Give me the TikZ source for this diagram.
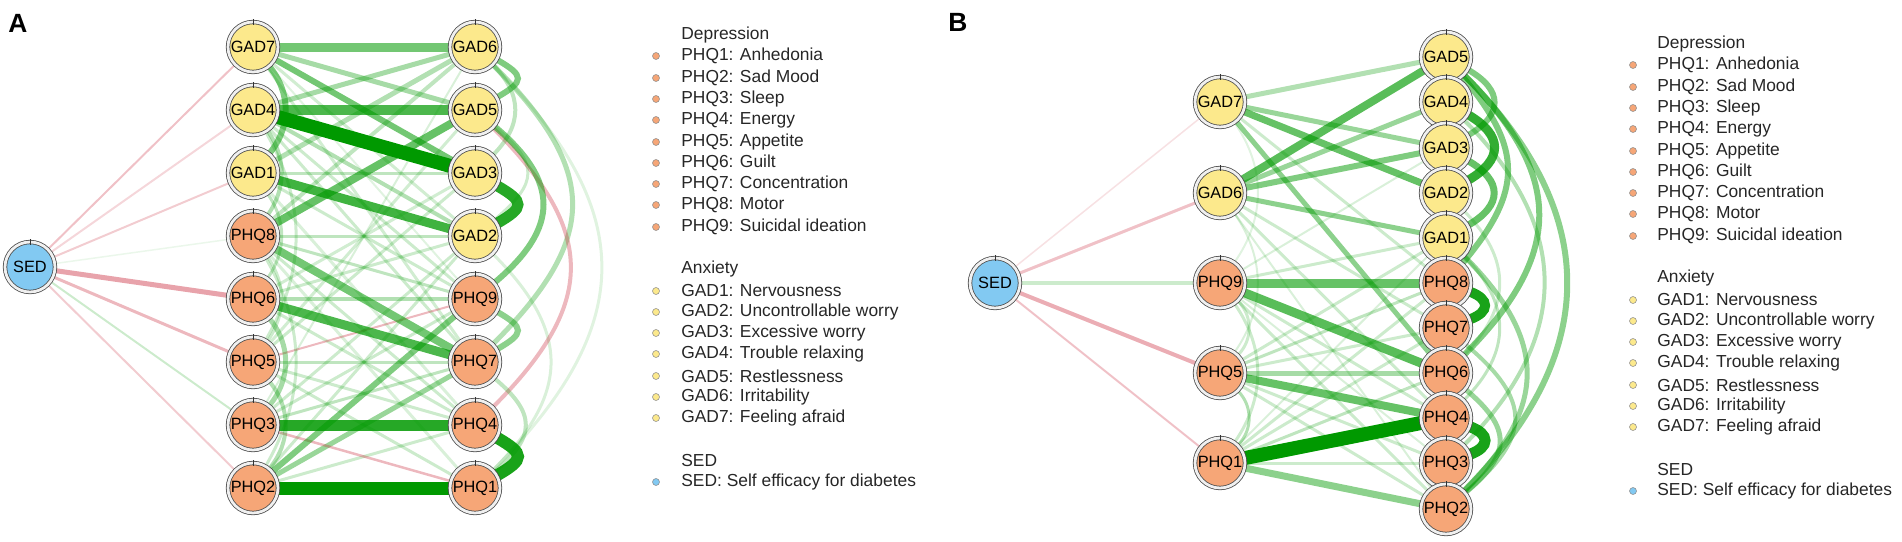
\documentclass[tikz,border=0pt]{standalone}
\usepackage{fontspec}
\setmainfont{Liberation Sans}
\definecolor{gadfill}{HTML}{FCE98C}
\definecolor{phqfill}{HTML}{F6A677}
\definecolor{sedfill}{HTML}{82C9F2}
\definecolor{posgreen}{HTML}{009900}
\definecolor{negred}{HTML}{CC3344}
\pgfdeclarelayer{edgelayer}
\pgfsetlayers{edgelayer,main}

\begin{document}
\begin{tikzpicture}[x=0.02cm,y=-0.02cm,
    item/.style={circle, inner sep=0pt, minimum size=1cm, draw=black!70, line width=0.45pt,
        double=gray!12, double distance=0.055cm, font=\fontsize{9.3pt}{10pt}\selectfont},
    gad/.style={item, fill=gadfill},
    phq/.style={item, fill=phqfill},
    sed/.style={item, fill=sedfill},
    posedge/.style 2 args={draw=posgreen, line width=#1*0.02cm, draw opacity=#2},
    negedge/.style 2 args={draw=negred, line width=#1*0.02cm, draw opacity=#2},
    legtext/.style={anchor=west, inner sep=0pt, text=black!85, font=\fontsize{9.9pt}{11pt}\selectfont},
    legdot/.style={circle, inner sep=0pt, minimum size=0.14cm, draw=black!45, line width=0.3pt},
    panel/.style={font=\fontsize{15pt}{17pt}\selectfont\bfseries}]
    \useasboundingbox (0,0) rectangle (1902,541);

    \node[panel] (labA) at (18,23) {A};
    \node[panel] (labB) at (958,22) {B};

    \node[sed] (aS) at (30,267) {SED};
    \node[gad] (aG7) at (253,47) {GAD7};
    \node[gad] (aG4) at (253,110) {GAD4};
    \node[gad] (aG1) at (253,173) {GAD1};
    \node[phq] (aP8) at (253,236) {PHQ8};
    \node[phq] (aP6) at (253,299) {PHQ6};
    \node[phq] (aP5) at (253,362) {PHQ5};
    \node[phq] (aP3) at (253,425) {PHQ3};
    \node[phq] (aP2) at (253,488) {PHQ2};
    \node[gad] (aG6) at (475,47) {GAD6};
    \node[gad] (aG5) at (475,110) {GAD5};
    \node[gad] (aG3) at (475,173) {GAD3};
    \node[gad] (aG2) at (475,236) {GAD2};
    \node[phq] (aP9) at (475,299) {PHQ9};
    \node[phq] (aP7) at (475,362) {PHQ7};
    \node[phq] (aP4) at (475,425) {PHQ4};
    \node[phq] (aP1) at (475,488) {PHQ1};

    \node[sed] (bS) at (995,283) {SED};
    \node[gad] (bG7) at (1220,102) {GAD7};
    \node[gad] (bG6) at (1220,193) {GAD6};
    \node[phq] (bP9) at (1220,283) {PHQ9};
    \node[phq] (bP5) at (1220,373) {PHQ5};
    \node[phq] (bP1) at (1220,463) {PHQ1};
    \node[gad] (bG5) at (1446,57) {GAD5};
    \node[gad] (bG4) at (1446,102) {GAD4};
    \node[gad] (bG3) at (1446,148) {GAD3};
    \node[gad] (bG2) at (1446,193) {GAD2};
    \node[gad] (bG1) at (1446,238) {GAD1};
    \node[phq] (bP8) at (1446,283) {PHQ8};
    \node[phq] (bP7) at (1446,328) {PHQ7};
    \node[phq] (bP6) at (1446,373) {PHQ6};
    \node[phq] (bP4) at (1446,418) {PHQ4};
    \node[phq] (bP3) at (1446,463) {PHQ3};
    \node[phq] (bP2) at (1446,509) {PHQ2};

    \foreach \n in {aS,aG7,aG4,aG1,aP8,aP6,aP5,aP3,aP2,aG6,aG5,aG3,aG2,aP9,aP7,aP4,aP1,
        bS,bG7,bG6,bP9,bP5,bP1,bG5,bG4,bG3,bG2,bG1,bP8,bP7,bP6,bP4,bP3,bP2}
        \draw[black!80, line width=0.5pt] (\n.center) ++(0,-22.5) -- ++(0,-5.5);

    \begin{pgfonlayer}{edgelayer}
        \draw[posedge={2}{0.12}] (aG7) -- (aP9);
        \draw[posedge={3}{0.18}] (aG7) -- (aG2);
        \draw[posedge={3}{0.18}] (aG7) -- (aP7);
        \draw[posedge={3}{0.2}] (aG4) -- (aP7);
        \draw[posedge={3}{0.2}] (aG4) -- (aP9);
        \draw[posedge={3}{0.25}] (aG1) -- (aG3);
        \draw[posedge={3}{0.2}] (aG1) -- (aP9);
        \draw[posedge={3}{0.15}] (aG1) -- (aP4);
        \draw[posedge={3}{0.25}] (aP8) -- (aG2);
        \draw[posedge={3}{0.25}] (aP8) -- (aP9);
        \draw[posedge={3}{0.2}] (aP8) -- (aP4);
        \draw[posedge={3}{0.15}] (aP8) -- (aP1);
        \draw[posedge={3}{0.2}] (aP6) -- (aG2);
        \draw[posedge={3}{0.18}] (aP6) -- (aG3);
        \draw[posedge={3}{0.2}] (aP6) -- (aP4);
        \draw[posedge={3}{0.2}] (aP5) -- (aG3);
        \draw[posedge={3}{0.18}] (aP5) -- (aG5);
        \draw[posedge={3}{0.25}] (aP5) -- (aP7);
        \draw[posedge={3}{0.2}] (aP5) -- (aP4);
        \draw[posedge={3}{0.2}] (aP5) -- (aP1);
        \draw[posedge={2}{0.15}] (aP3) -- (aG6);
        \draw[posedge={3}{0.2}] (aP3) -- (aG2);
        \draw[posedge={3}{0.2}] (aP3) -- (aP9);
        \draw[posedge={3}{0.25}] (aP3) -- (aP7);
        \draw[posedge={3}{0.2}] (aP2) -- (aG2);
        \draw[posedge={3}{0.2}] (aP2) -- (aP4);
        \draw[posedge={4}{0.3}] (aG4) -- (aG2);
        \draw[posedge={4}{0.25}] (aP8) -- (aG6);
        \draw[posedge={4}{0.3}] (aP6) -- (aP9);
        \draw[posedge={5}{0.35}] (aG7) -- (aG5);
        \draw[posedge={5}{0.35}] (aG4) -- (aG6);
        \draw[posedge={5}{0.3}] (aG1) -- (aG6);
        \draw[posedge={5}{0.4}] (aP2) -- (aP7);
        \draw[negedge={2}{0.35}] (aP5) -- (aP9);
        \draw[negedge={2.5}{0.35}] (aP3) -- (aP1);

        \draw[posedge={6}{0.5}] (aG7) to[bend left=40] (aG1);
        \draw[posedge={4}{0.3}] (aG4) to[bend left=35] (aP8);
        \draw[posedge={3}{0.25}] (aG1) to[bend left=35] (aP6);
        \draw[posedge={3}{0.2}] (aP8) to[bend left=35] (aP5);
        \draw[posedge={5}{0.35}] (aP6) to[bend left=40] (aP3);
        \draw[posedge={4}{0.3}] (aP5) to[bend left=40] (aP2);
        \draw[posedge={3}{0.2}] (aG4) to[bend left=30] (aP5);
        \draw[posedge={3}{0.2}] (aP8) to[bend left=30] (aP2);

        \draw[posedge={3}{0.12}] (aG6) to[bend left=45, looseness=1.3] (aP1);
        \draw[posedge={5}{0.3}] (aG6) to[bend left=45, looseness=1.38] (aP7);
        \draw[posedge={3}{0.15}] (aG2) to[bend left=45, looseness=1.3] (aP1);
        \draw[negedge={4}{0.35}] (aG5) to[bend left=45, looseness=1.35] (aP4);
        \draw[posedge={4}{0.25}] (aG6) to[bend left=45, looseness=1.2] (aG3);
        \draw[posedge={3}{0.2}] (aG5) to[bend left=50, looseness=1.6] (aG2);
        \draw[posedge={4}{0.25}] (aP7) to[bend left=50, looseness=1.5] (aP1);
        \draw[posedge={6}{0.5}] (aG5) to[bend left=50, looseness=1.4] (aP9);
        \draw[posedge={6}{0.5}] (aG6) to[bend left=60, looseness=2.2] (aG5);
        \draw[posedge={6}{0.45}] (aP9) to[bend left=60, looseness=2.2] (aP7);
        \draw[posedge={11}{0.85}] (aG3) to[bend left=60, looseness=2.2] (aG2);
        \draw[posedge={12}{0.9}] (aP4) to[bend left=60, looseness=2.2] (aP1);

        \draw[posedge={6}{0.55}] (aG7) -- (aG3);
        \draw[posedge={9}{0.55}] (aG7) -- (aG6);
        \draw[posedge={8}{0.6}] (aP8) -- (aG5);
        \draw[posedge={8}{0.55}] (aP8) -- (aP7);
        \draw[posedge={6}{0.5}] (aP2) -- (aP9);
        \draw[posedge={9}{0.75}] (aG1) -- (aG2);
        \draw[posedge={9}{0.7}] (aP6) -- (aP7);
        \draw[posedge={10}{0.7}] (aG4) -- (aG5);
        \draw[posedge={11}{0.85}] (aP3) -- (aP4);
        \draw[posedge={14}{1}] (aG4) -- (aG3);
        \draw[posedge={13}{1}] (aP2) -- (aP1);

        \draw[posedge={1.5}{0.08}] (aS) -- (aP8);
        \draw[posedge={2}{0.2}] (aS) -- (aP3);
        \draw[negedge={2}{0.2}] (aS) -- (aG4);
        \draw[negedge={2}{0.25}] (aS) -- (aG1);
        \draw[negedge={2}{0.3}] (aS) -- (aG7);
        \draw[negedge={2}{0.25}] (aS) -- (aP2);
        \draw[negedge={3}{0.35}] (aS) -- (aP5);
        \draw[negedge={5}{0.45}] (aS) -- (aP6);

        \draw[posedge={3}{0.2}] (bG7) -- (bP8);
        \draw[posedge={3}{0.2}] (bG6) -- (bP7);
        \draw[posedge={3}{0.2}] (bG6) -- (bP4);
        \draw[posedge={2}{0.15}] (bG6) -- (bP2);
        \draw[posedge={3}{0.2}] (bP9) -- (bG1);
        \draw[posedge={2}{0.15}] (bP9) -- (bG3);
        \draw[posedge={3}{0.2}] (bP9) -- (bP4);
        \draw[posedge={2}{0.15}] (bP9) -- (bP3);
        \draw[posedge={3}{0.2}] (bP9) -- (bP2);
        \draw[posedge={3}{0.25}] (bP5) -- (bP8);
        \draw[posedge={3}{0.2}] (bP5) -- (bG1);
        \draw[posedge={3}{0.2}] (bP5) -- (bP7);
        \draw[posedge={3}{0.2}] (bP5) -- (bP3);
        \draw[posedge={3}{0.2}] (bP5) -- (bP2);
        \draw[posedge={2}{0.15}] (bP1) -- (bG1);
        \draw[posedge={3}{0.2}] (bP1) -- (bP8);
        \draw[posedge={3}{0.2}] (bP1) -- (bP7);
        \draw[posedge={3}{0.25}] (bP1) -- (bP6);
        \draw[posedge={3}{0.2}] (bP1) -- (bP3);

        \draw[posedge={2}{0.12}] (bG7) to[bend left=35] (bP9);
        \draw[posedge={2}{0.15}] (bG6) to[bend left=35] (bP5);
        \draw[posedge={3}{0.2}] (bP9) to[bend left=35] (bP1);
        \draw[posedge={3}{0.2}] (bP9) to[bend left=45] (bP5);
        \draw[posedge={3}{0.3}] (bP5) to[bend left=45] (bP1);

        \draw[posedge={5}{0.3}] (bG7) -- (bG5);
        \draw[posedge={5}{0.4}] (bG7) -- (bG3);
        \draw[posedge={7}{0.6}] (bG7) -- (bG2);
        \draw[posedge={5}{0.45}] (bG7) -- (bP6);
        \draw[posedge={5}{0.4}] (bG6) -- (bG4);
        \draw[posedge={6}{0.5}] (bG6) -- (bG3);
        \draw[posedge={5}{0.45}] (bG6) -- (bG1);
        \draw[posedge={8}{0.65}] (bG6) -- (bG5);
        \draw[posedge={5}{0.35}] (bP5) -- (bP6);
        \draw[posedge={7}{0.45}] (bP1) -- (bP2);
        \draw[posedge={9}{0.6}] (bP9) -- (bP8);
        \draw[posedge={9}{0.65}] (bP9) -- (bP6);
        \draw[posedge={8}{0.6}] (bP5) -- (bP4);
        \draw[posedge={14}{1}] (bP1) -- (bP4);

        \draw[posedge={3}{0.2}] (bG2) to[bend left=45, looseness=1.2] (bP6);
        \draw[posedge={3}{0.25}] (bG1) to[bend left=45, looseness=1.2] (bP4);
        \draw[posedge={4}{0.3}] (bG4) to[bend left=45, looseness=1.2] (bP3);
        \draw[posedge={4}{0.35}] (bP7) to[bend left=50, looseness=1.5] (bP2);
        \draw[posedge={5}{0.4}] (bP6) to[bend left=50, looseness=1.5] (bP2);
        \draw[posedge={5}{0.4}] (bG1) to[bend left=45, looseness=1.3] (bP2);
        \draw[posedge={6}{0.45}] (bG5) to[bend left=45, looseness=1.2] (bP2);
        \draw[posedge={6}{0.5}] (bG5) to[bend left=45, looseness=1.3] (bP6);
        \draw[posedge={6}{0.5}] (bG5) to[bend left=40, looseness=1.3] (bP8);
        \draw[posedge={6}{0.5}] (bG5) to[bend left=60, looseness=1.6] (bG3);
        \draw[posedge={7}{0.6}] (bG3) to[bend left=60, looseness=1.6] (bG1);
        \draw[posedge={9}{0.8}] (bG4) to[bend left=60, looseness=1.6] (bG2);
        \draw[posedge={10}{0.9}] (bP8) to[bend left=70, looseness=2] (bP7);
        \draw[posedge={11}{0.9}] (bP4) to[bend left=70, looseness=2] (bP3);

        \draw[negedge={1.5}{0.15}] (bS) -- (bG7);
        \draw[negedge={3}{0.3}] (bS) -- (bG6);
        \draw[posedge={4}{0.2}] (bS) -- (bP9);
        \draw[negedge={4}{0.4}] (bS) -- (bP5);
        \draw[negedge={2}{0.3}] (bS) -- (bP1);
    \end{pgfonlayer}

    \node[legtext] (aLdep) at (681,35) {Depression};
    \node[legdot, fill=phqfill] (aD1) at (656,56) {};
    \node[legtext] (aL1) at (681,56) {PHQ1: Anhedonia};
    \node[legdot, fill=phqfill] (aD2) at (656,78) {};
    \node[legtext] (aL2) at (681,78) {PHQ2: Sad Mood};
    \node[legdot, fill=phqfill] (aD3) at (656,99) {};
    \node[legtext] (aL3) at (681,99) {PHQ3: Sleep};
    \node[legdot, fill=phqfill] (aD4) at (656,120) {};
    \node[legtext] (aL4) at (681,120) {PHQ4: Energy};
    \node[legdot, fill=phqfill] (aD5) at (656,142) {};
    \node[legtext] (aL5) at (681,142) {PHQ5: Appetite};
    \node[legdot, fill=phqfill] (aD6) at (656,163) {};
    \node[legtext] (aL6) at (681,163) {PHQ6: Guilt};
    \node[legdot, fill=phqfill] (aD7) at (656,184) {};
    \node[legtext] (aL7) at (681,184) {PHQ7: Concentration};
    \node[legdot, fill=phqfill] (aD8) at (656,205) {};
    \node[legtext] (aL8) at (681,205) {PHQ8: Motor};
    \node[legdot, fill=phqfill] (aD9) at (656,227) {};
    \node[legtext] (aL9) at (681,227) {PHQ9: Suicidal ideation};
    \node[legtext] (aLanx) at (681,269) {Anxiety};
    \node[legdot, fill=gadfill] (aE1) at (656,291) {};
    \node[legtext] (aM1) at (681,291) {GAD1: Nervousness};
    \node[legdot, fill=gadfill] (aE2) at (656,312) {};
    \node[legtext] (aM2) at (681,312) {GAD2: Uncontrollable worry};
    \node[legdot, fill=gadfill] (aE3) at (656,333) {};
    \node[legtext] (aM3) at (681,333) {GAD3: Excessive worry};
    \node[legdot, fill=gadfill] (aE4) at (656,354) {};
    \node[legtext] (aM4) at (681,354) {GAD4: Trouble relaxing};
    \node[legdot, fill=gadfill] (aE5) at (656,376) {};
    \node[legtext] (aM5) at (681,376) {GAD5: Restlessness};
    \node[legdot, fill=gadfill] (aE6) at (656,397) {};
    \node[legtext] (aM6) at (681,397) {GAD6: Irritability};
    \node[legdot, fill=gadfill] (aE7) at (656,418) {};
    \node[legtext] (aM7) at (681,418) {GAD7: Feeling afraid};
    \node[legtext] (aLsed) at (681,461) {SED};
    \node[legdot, fill=sedfill] (aF1) at (656,482) {};
    \node[legtext] (aN1) at (681,482) {SED: Self efficacy for diabetes};

    \node[legtext] (bLdep) at (1657,44) {Depression};
    \node[legdot, fill=phqfill] (bD1) at (1633,65) {};
    \node[legtext] (bL1) at (1657,65) {PHQ1: Anhedonia};
    \node[legdot, fill=phqfill] (bD2) at (1633,87) {};
    \node[legtext] (bL2) at (1657,87) {PHQ2: Sad Mood};
    \node[legdot, fill=phqfill] (bD3) at (1633,108) {};
    \node[legtext] (bL3) at (1657,108) {PHQ3: Sleep};
    \node[legdot, fill=phqfill] (bD4) at (1633,129) {};
    \node[legtext] (bL4) at (1657,129) {PHQ4: Energy};
    \node[legdot, fill=phqfill] (bD5) at (1633,151) {};
    \node[legtext] (bL5) at (1657,151) {PHQ5: Appetite};
    \node[legdot, fill=phqfill] (bD6) at (1633,172) {};
    \node[legtext] (bL6) at (1657,172) {PHQ6: Guilt};
    \node[legdot, fill=phqfill] (bD7) at (1633,193) {};
    \node[legtext] (bL7) at (1657,193) {PHQ7: Concentration};
    \node[legdot, fill=phqfill] (bD8) at (1633,214) {};
    \node[legtext] (bL8) at (1657,214) {PHQ8: Motor};
    \node[legdot, fill=phqfill] (bD9) at (1633,236) {};
    \node[legtext] (bL9) at (1657,236) {PHQ9: Suicidal ideation};
    \node[legtext] (bLanx) at (1657,278) {Anxiety};
    \node[legdot, fill=gadfill] (bE1) at (1633,300) {};
    \node[legtext] (bM1) at (1657,300) {GAD1: Nervousness};
    \node[legdot, fill=gadfill] (bE2) at (1633,321) {};
    \node[legtext] (bM2) at (1657,321) {GAD2: Uncontrollable worry};
    \node[legdot, fill=gadfill] (bE3) at (1633,342) {};
    \node[legtext] (bM3) at (1657,342) {GAD3: Excessive worry};
    \node[legdot, fill=gadfill] (bE4) at (1633,363) {};
    \node[legtext] (bM4) at (1657,363) {GAD4: Trouble relaxing};
    \node[legdot, fill=gadfill] (bE5) at (1633,385) {};
    \node[legtext] (bM5) at (1657,385) {GAD5: Restlessness};
    \node[legdot, fill=gadfill] (bE6) at (1633,406) {};
    \node[legtext] (bM6) at (1657,406) {GAD6: Irritability};
    \node[legdot, fill=gadfill] (bE7) at (1633,427) {};
    \node[legtext] (bM7) at (1657,427) {GAD7: Feeling afraid};
    \node[legtext] (bLsed) at (1657,470) {SED};
    \node[legdot, fill=sedfill] (bF1) at (1633,491) {};
    \node[legtext] (bN1) at (1657,491) {SED: Self efficacy for diabetes};
\end{tikzpicture}
\end{document}
